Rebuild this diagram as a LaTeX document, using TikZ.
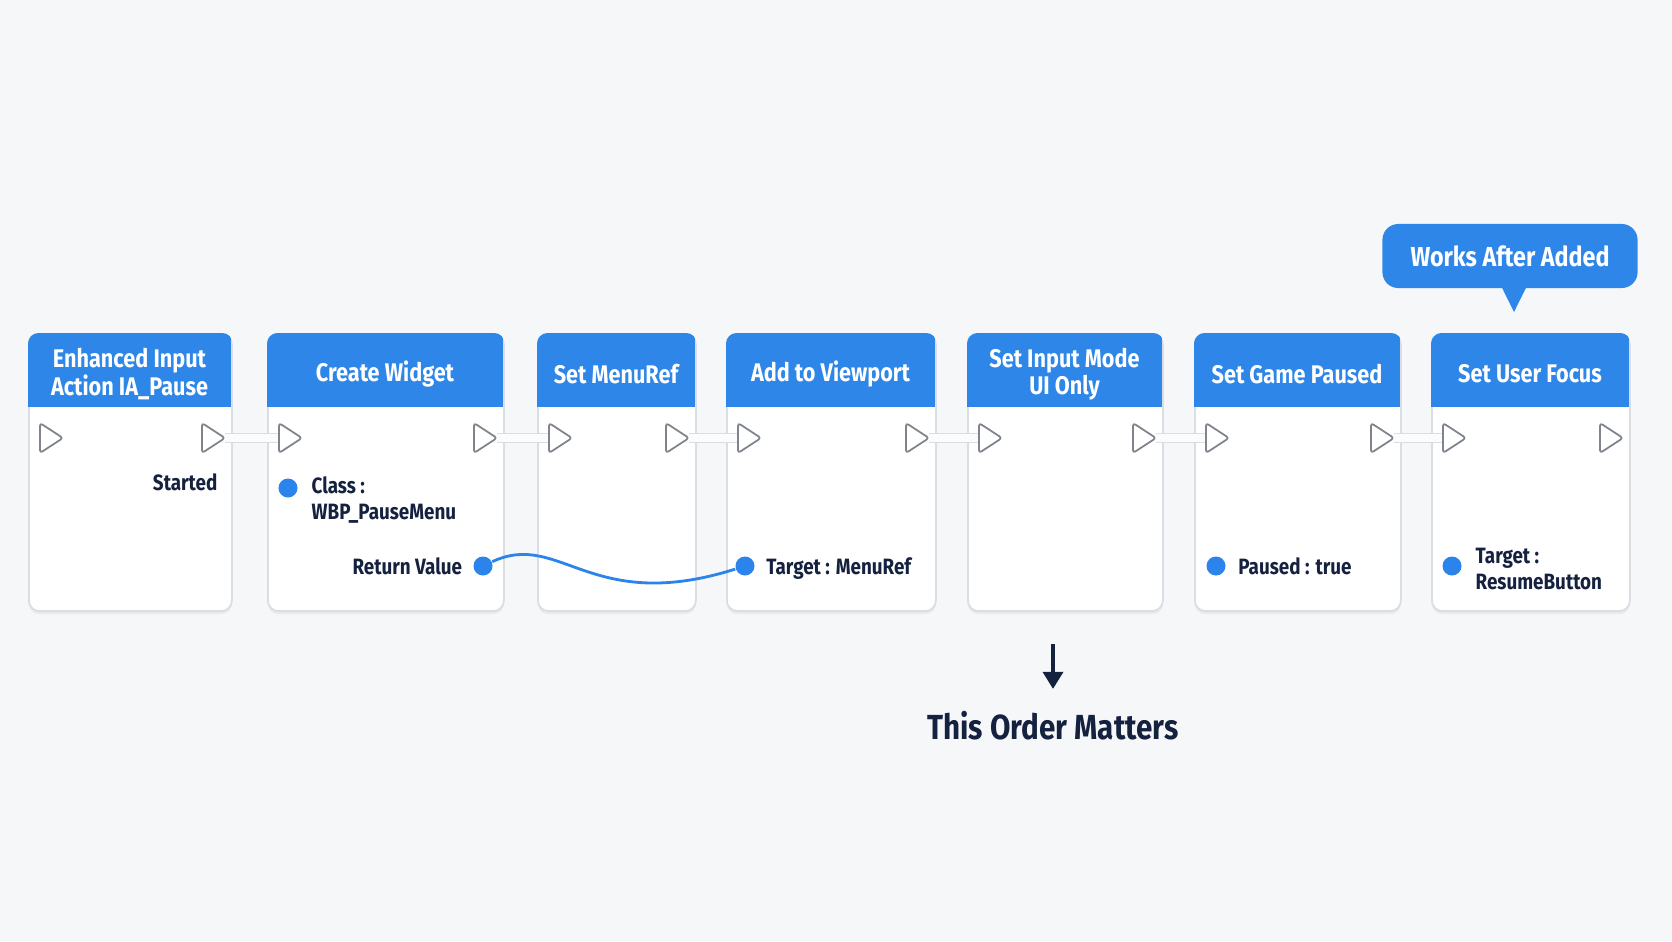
\documentclass[tikz,border=0pt]{standalone}
\usepackage{fontspec}
\setmainfont{Fira Sans}[FakeStretch=0.85]
\usetikzlibrary{positioning, arrows.meta, calc, shadows}
\definecolor{bpblue}{HTML}{2E87E8}
\definecolor{bppin}{HTML}{2B84EB}
\definecolor{bpnavy}{HTML}{14213F}
\definecolor{bpedge}{HTML}{DADDE2}
\definecolor{bpbg}{HTML}{F6F7F9}
\definecolor{bpgray}{HTML}{7E838C}

\begin{document}
\begin{tikzpicture}[
  x=0.01cm, y=-0.01cm,
  font=\bfseries,
  body/.style={rectangle, rounded corners=3pt, draw=bpedge, fill=white, line width=0.5pt,
    anchor=north west, minimum height=2.77cm, inner sep=0pt,
    drop shadow={opacity=0.10, shadow xshift=0pt, shadow yshift=-0.9pt}},
  head/.style={text=white, align=center, font=\bfseries\fontsize{7.25}{7.7}\selectfont},
  lbl/.style={text=bpnavy, inner sep=0pt, align=left, font=\bfseries\fontsize{6.3}{7.4}\selectfont},
  dpin/.style={circle, fill=bppin, minimum size=0.19cm, inner sep=0pt},
  execpin/.style={draw=bpgray, fill=white, line width=0.5pt, rounded corners=0.8pt, line join=round},
  wire/.style={draw=bpedge, line width=0.45pt, double=white!60!bpbg, double distance=2.2pt},
  datawire/.style={bppin, line width=0.8pt},
  note/.style={rectangle, rounded corners=4.5pt, fill=bpblue, text=white, minimum width=2.55cm,
    minimum height=0.64cm, font=\bfseries\fontsize{7.8}{9}\selectfont},
  orderarr/.style={-{Triangle[width=0.2cm, length=0.17cm]}, bpnavy, line width=1pt}
]
\fill[bpbg] (0,0) rectangle (1672,941);
\useasboundingbox (0,0) rectangle (1672,941);

% blueprint nodes
\foreach \n/\xa/\xb/\title in {
    1/28/231/{Enhanced Input\\Action IA\_Pause},
    2/267/503/{Create Widget},
    3/537/695/{Set MenuRef},
    4/726/935/{Add to Viewport},
    5/967/1162/{Set Input Mode\\UI Only},
    6/1194/1400/{Set Game Paused},
    7/1431/1629/{Set User Focus}} {
  \node[body, minimum width={(\xb-\xa)*0.01cm}] (b\n) at (\xa,333) {};
  \begin{scope}
    \clip[rounded corners=3pt] (b\n.south west) rectangle (b\n.north east);
    \fill[bpblue] (b\n.north west) rectangle (\xb,407);
  \end{scope}
  \node[head] (h\n) at ({(\xa+\xb)/2},374) {\title};
  \coordinate (i\n) at (\xa+12,438);
  \coordinate (o\n) at (\xb-6,438);
}

% exec wires
\foreach \a/\b in {1/2,2/3,3/4,4/5,5/6,6/7}
  \draw[wire] (o\a) -- (i\b);
\foreach \n in {1,...,7} {
  \draw[execpin] (i\n) ++(0,-15) -- ++(23,15) -- ++(-23,15) -- cycle;
  \draw[execpin] (o\n) ++(-23,-15) -- ++(23,15) -- ++(-23,15) -- cycle;
}

% data pins
\node[lbl, anchor=east] (tstart) at (218,482) {Started};
\node[dpin] (pclass) at (288,488) {};
\node[lbl, anchor=west] (tclass) at (311,500) {Class :\\WBP\_PauseMenu};
\node[dpin] (pret) at (483,566) {};
\node[lbl, left=0.1cm of pret] (tret) {Return Value};
\node[dpin] (ptgt) at (745,566) {};
\node[lbl, right=0.105cm of ptgt, yshift=-0.03cm] (ttgt) {Target : MenuRef};
\node[dpin] (ppause) at (1216,566) {};
\node[lbl, right=0.115cm of ppause] (tpause) {Paused : true};
\node[dpin] (pfocus) at (1452,566) {};
\node[lbl, anchor=west] (tfocus) at (1475,569) {Target :\\ResumeButton};

\draw[datawire] (pret) .. controls (560,530) and (590,615) .. (ptgt);

% callout
\node[note] (note) at (1510,256) {Works After Added};
\coordinate (notetip) at (1514,312);
\fill[bpblue] ($(note.south)+(-8,-1)$) -- (notetip) -- ($(note.south)+(16,-1)$) -- cycle;

% order hint
\node[text=bpnavy, inner sep=0pt, font=\bfseries\fontsize{9.9}{12}\selectfont] (order) at (1053,726) {This Order Matters};
\coordinate (ordtop) at (1053,644);
\draw[orderarr] (ordtop) -- ([yshift=0.22cm]order.north);
\end{tikzpicture}
\end{document}
